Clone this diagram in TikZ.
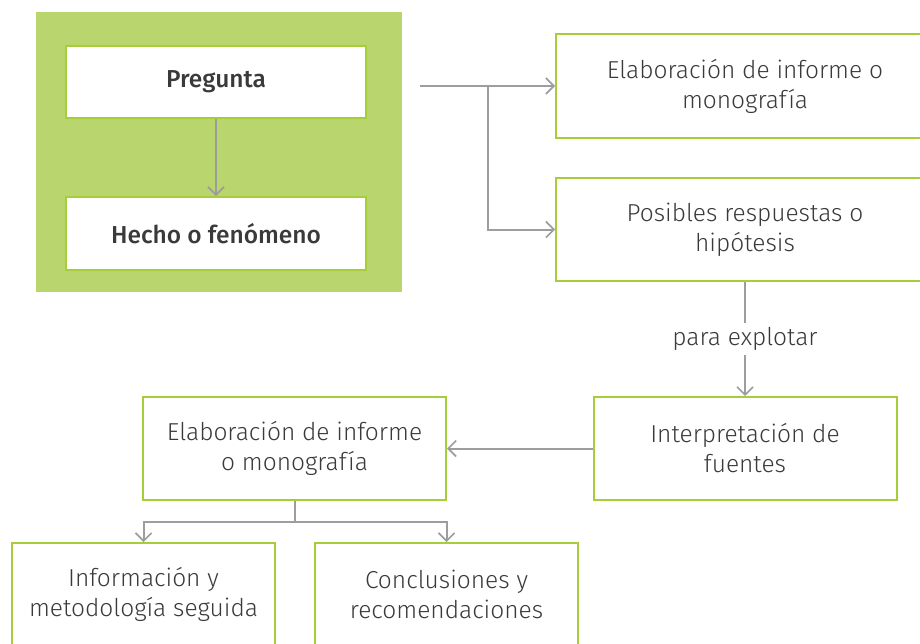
\documentclass[tikz,border=0pt]{standalone}
\usepackage{fontspec}
\setmainfont{Fira Sans}[UprightFont=* Light, BoldFont=* Medium]
\usetikzlibrary{arrows.meta}
\definecolor{bggreen}{HTML}{B8D56E}
\definecolor{bordergreen}{HTML}{A6CE39}
\definecolor{linegray}{HTML}{9D9D9F}
\definecolor{txt}{HTML}{3A3A3A}
\tikzset{
  box/.style={draw=bordergreen, line width=2pt, fill=white, align=center, text=txt,
    font=\fontsize{24.5}{30}\selectfont, inner sep=0pt},
  boldbox/.style={box, font=\bfseries\fontsize{24.5}{30}\selectfont},
  conn/.style={draw=linegray, line width=2pt, -{Straight Barb[length=8pt,width=16pt,line width=1.6pt]}},
  plain/.style={draw=linegray, line width=2pt}
}
\begin{document}
\begin{tikzpicture}[x=1pt,y=-1pt]
\useasboundingbox (0,0) rectangle (920,643);
\fill[bggreen] (36,12) rectangle (402,292);
\node[boldbox, minimum width=300pt, minimum height=72pt] (preg) at (216,82) {Pregunta};
\node[boldbox, minimum width=300pt, minimum height=73pt] (hecho) at (216,233.5) {Hecho o fenómeno};
\node[box, minimum width=378pt, minimum height=104pt] (b1) at (745,86) {Elaboración de informe o\\monografía};
\node[box, minimum width=378pt, minimum height=103pt] (b2) at (745,229.5) {Posibles respuestas o\\hipótesis};
\node[box, minimum width=303pt, minimum height=103pt] (b3) at (745,448.5) {Interpretación de\\fuentes};
\node[box, minimum width=303pt, minimum height=103pt] (b4) at (294.5,448.5) {Elaboración de informe\\o monografía};
\node[box, minimum width=263pt, minimum height=103pt] (b5) at (143.5,594.5) {Información y\\metodología seguida};
\node[box, minimum width=263pt, minimum height=103pt] (b6) at (446.5,594.5) {Conclusiones y\\recomendaciones};
\coordinate (start) at (420,86);
\coordinate (junc) at (488,86);
\coordinate (split) at (294.5,522);
\draw[conn] (preg) -- (hecho);
\draw[conn] (start) -- (b1.west);
\draw[conn] (junc) |- (b2.west);
\draw[conn] (b2.south) -- node[fill=white, text=txt, font=\fontsize{24.5}{30}\selectfont, inner sep=4pt] (lab) {para explotar} (b3.north);
\draw[conn] (b3.west) -- (b4.east);
\draw[plain] (b4.south) -- (split);
\draw[conn] (split) -| (b5.north);
\draw[conn] (split) -| (b6.north);
\end{tikzpicture}
\end{document}
